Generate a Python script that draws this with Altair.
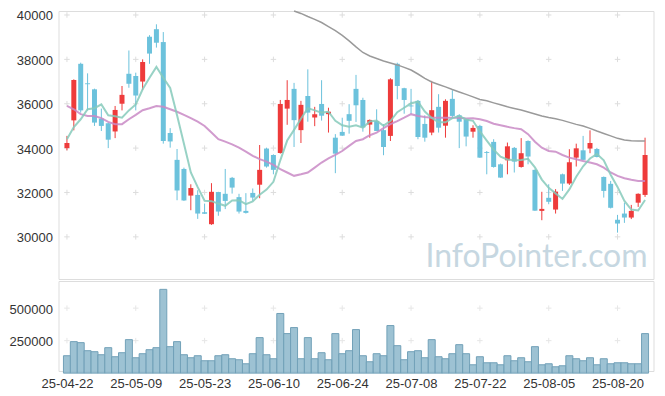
import altair as alt
import pandas as pd

# ---- data ----
opens = [34000, 35250, 37800, 36920, 36650, 35330, 35120, 34750, 36000, 37350,
         37250, 37000, 39020, 39360, 38780, 34680, 33470, 33060, 31860, 31890,
         31110, 30570, 32020, 31940, 32660, 31790, 31170, 31980, 32350, 33980,
         33690, 33780, 35780, 36670, 34810, 36350, 35380, 35990, 35530, 34470,
         34730, 35530, 36670, 36170, 35060, 35220, 34810, 34550, 37800, 36700,
         35920, 36130, 35090, 34700, 35860, 35010, 36220, 35480, 35300, 34740,
         35000, 33820, 34280, 33270, 33450, 34010, 33150, 34320, 33020, 31170,
         31760, 31230, 32820, 32400, 33570, 33900, 33980, 33960, 32700, 32390,
         30770, 31050, 30870, 31540, 31890]
highs = [34550, 37100, 37850, 37370, 36680, 35780, 35150, 35900, 36800, 38400,
         37400, 38000, 39090, 39580, 39230, 34900, 33960, 33120, 32370, 32100,
         31500, 32420, 32030, 33060, 32700, 31940, 31970, 32180, 34140, 34020,
         33720, 36170, 37060, 36940, 36130, 37550, 35860, 37060, 35820, 34630,
         35370, 35980, 37300, 36270, 35290, 35750, 35080, 37150, 37850, 36720,
         36670, 36170, 35480, 37030, 36430, 36200, 36610, 35530, 35320, 35030,
         35050, 33870, 34400, 33300, 34250, 34050, 34450, 34350, 33040, 32030,
         32370, 32150, 32850, 33950, 34200, 34550, 34800, 34010, 32720, 32520,
         30990, 31540, 31440, 31960, 34470]
lows = [33900, 34800, 35600, 35700, 35000, 34770, 34000, 34450, 35700, 36720,
        35700, 36620, 37800, 38530, 34200, 34020, 31650, 31620, 31200, 30810,
        31030, 30540, 30950, 31250, 31950, 31050, 31050, 31620, 31740, 33120,
        32820, 33750, 35050, 34050, 34230, 35190, 34990, 35240, 34700, 32870,
        34550, 34650, 35180, 34740, 34470, 34770, 33680, 34320, 36200, 35550,
        35530, 34400, 34290, 34580, 34700, 34470, 35370, 34000, 34080, 34470,
        33560, 32820, 33120, 32660, 32820, 32900, 33120, 33270, 31170, 30750,
        31470, 31050, 32070, 32340, 33170, 33450, 33770, 33580, 31770, 31280,
        30190, 30630, 30800, 31350, 31800]
closes = [34230, 37070, 35700, 36880, 35150, 35000, 34380, 35720, 36400, 36900,
          36370, 37880, 38260, 38750, 34320, 34300, 32090, 31640, 32200, 31050,
          31040, 32030, 31140, 31620, 32220, 31140, 31080, 31770, 33020, 33170,
          33020, 35990, 36170, 35260, 35950, 35600, 35530, 35460, 35640, 33750,
          34560, 35230, 35930, 34930, 35270, 34770, 34050, 37100, 36800, 36170,
          35880, 34500, 34470, 35710, 34920, 36130, 35450, 35190, 34520, 34910,
          33570, 33780, 33150, 32670, 34080, 33390, 33770, 33620, 31180, 31260,
          31580, 32040, 32400, 33360, 33990, 33470, 34230, 33600, 32070, 31310,
          30600, 30870, 31170, 31940, 33690]
volumes = [133900, 242300, 234500, 172600, 164900, 141600, 195800, 126200, 157100, 257700,
           118400, 149400, 180300, 195800, 644700, 203600, 242300, 141600, 118400, 133900,
           95200, 95200, 133900, 141600, 110700, 102900, 72000, 149400, 273200, 141600,
           110700, 459000, 304200, 350600, 110700, 273200, 110700, 157100, 102900, 304200,
           149400, 172600, 335100, 133900, 87500, 149400, 133900, 366100, 211300, 102900,
           164900, 172600, 118400, 257700, 126200, 110700, 149400, 219000, 149400, 64200,
           126200, 79700, 79700, 64200, 133900, 95200, 118400, 87500, 203600, 64200,
           72000, 48800, 56500, 133900, 110700, 95200, 118400, 64200, 110700, 72000,
           79700, 79700, 72000, 72000, 304200]
ma5 = [34400, 34950, 35300, 35750, 35800, 35970, 35480, 35440, 35370, 35700,
       35970, 36650, 37170, 37660, 37170, 36710, 35480, 34200, 32900, 32240,
       31630, 31610, 31500, 31400, 31640, 31650, 31470, 31600, 31900, 32130,
       32480, 33450, 34340, 34820, 35320, 35800, 35700, 35600, 35640, 35230,
       35030, 34960, 35030, 34920, 35200, 35240, 35010, 35220, 35620, 35820,
       36020, 36090, 35650, 35360, 35160, 35160, 35350, 35440, 35290, 35230,
       34750, 34340, 33930, 33610, 33490, 33450, 33460, 33520, 33130, 32580,
       32210, 31960, 31710, 32140, 32710, 33180, 33530, 33730, 33450, 32800,
       32250, 31620, 31230, 31190, 31660]
ma20 = [35900, 35750, 35530, 35450, 35450, 35350, 35180, 35080, 35080, 35300,
        35500, 35710, 35800, 35900, 35860, 35750, 35640, 35500, 35350, 35190,
        35000, 34700, 34400, 34290, 34170, 34020, 33840, 33650, 33500, 33390,
        33240, 33050, 32900, 32750, 32820, 32900, 33120, 33350, 33540, 33690,
        33870, 34100, 34320, 34400, 34580, 34700, 34900, 35080, 35220, 35370,
        35530, 35450, 35400, 35370, 35370, 35370, 35370, 35370, 35330, 35350,
        35300, 35220, 35100, 35030, 34960, 34900, 34850, 34630, 34290, 34020,
        33870, 33840, 33690, 33570, 33500, 33420, 33350, 33270, 33120, 32900,
        32750, 32640, 32570, 32520, 32520]
ma60_start = 33
ma60 = [40180, 40070, 39930, 39800, 39660, 39480, 39300, 39080, 38830,
        38560, 38310, 38150, 38040, 37930, 37840, 37750, 37640, 37520, 37340,
        37140, 36980, 36870, 36760, 36640, 36530, 36420, 36310, 36190, 36130,
        36040, 35950, 35860, 35790, 35720, 35630, 35540, 35450, 35380, 35320,
        35250, 35160, 35070, 35000, 34890, 34770, 34660, 34550, 34440, 34370,
        34330, 34320, 34320]
tick_index = [0, 10, 20, 30, 40, 50, 60, 70, 80]
tick_labels = ["25-04-22", "25-05-09", "25-05-23", "25-06-10", "25-06-24",
               "25-07-08", "25-07-22", "25-08-05", "25-08-20"]
price_ticks = [30000, 32000, 34000, 36000, 38000, 40000]
vol_ticks = [250000, 500000]
watermark = "InfoPointer.com"

# ---- styling ----
RED = "#ee3b3b"
BLUE = "#6cc2dc"
FONT = "Liberation Sans"
FS = 13
LABEL_COLOR = "#333333"
W = 595
H_MAIN = 268
H_VOL = 90

n = len(opens)
df = pd.DataFrame({
    "i": list(range(n)), "open": opens, "high": highs, "low": lows,
    "close": closes, "vol": volumes, "ma5": ma5, "ma20": ma20,
})
df["dir"] = ["up" if c >= o else "down" for o, c in zip(opens, closes)]
ma60_df = pd.DataFrame({"i": list(range(ma60_start, ma60_start + len(ma60))), "ma60": ma60})

grid_main = pd.DataFrame([(x, y) for x in tick_index for y in price_ticks], columns=["i", "p"])
grid_vol = pd.DataFrame([(x, y) for x in tick_index for y in vol_ticks], columns=["i", "v"])

xscale = alt.Scale(domain=[-0.5, n - 0.5], nice=False, zero=False)
yscale = alt.Scale(domain=[28100, 40180], nice=False, zero=False)
vscale = alt.Scale(domain=[16300, 709000], nice=False, zero=False)
cscale = alt.Scale(domain=["up", "down"], range=[RED, BLUE])

ext = 51
yaxis_main = alt.Axis(values=price_ticks, grid=False, ticks=False, domain=False, format="d",
                      labelFont=FONT, labelFontSize=FS, labelColor=LABEL_COLOR,
                      labelPadding=6, labelOffset=1, title=None, minExtent=ext, maxExtent=ext)
yaxis_vol = alt.Axis(values=vol_ticks, grid=False, ticks=False, domain=False, format="d",
                     labelFont=FONT, labelFontSize=FS, labelColor=LABEL_COLOR,
                     labelPadding=6, labelOffset=1, title=None, minExtent=ext, maxExtent=ext)
label_arr = "[" + ",".join("'%s'" % t for t in tick_labels) + "]"
xaxis_vol = alt.Axis(values=tick_index, grid=False, ticks=False, domain=False,
                     labelExpr=label_arr + "[datum.value / 10]",
                     labelFont=FONT, labelFontSize=FS, labelColor=LABEL_COLOR,
                     labelPadding=6, title=None, labelFlush=False)

cross = "M-1,0L1,0M0,-1L0,1"

gm = alt.Chart(grid_main).mark_point(shape=cross, size=30, filled=False,
                                      stroke="#dddddd", strokeWidth=1, opacity=1).encode(
    x=alt.X("i:Q", scale=xscale, axis=None),
    y=alt.Y("p:Q", scale=yscale, axis=yaxis_main),
)

base = alt.Chart(df).encode(x=alt.X("i:Q", scale=xscale, axis=None))
wick = base.mark_rule(strokeWidth=1).encode(
    y=alt.Y("low:Q", scale=yscale, axis=yaxis_main), y2="high:Q",
    color=alt.Color("dir:N", scale=cscale, legend=None),
)
body = base.mark_bar(size=5).encode(
    y=alt.Y("open:Q", scale=yscale), y2="close:Q",
    color=alt.Color("dir:N", scale=cscale, legend=None),
)
l5 = base.mark_line(color="#86cabb", strokeWidth=2, opacity=0.85).encode(
    y=alt.Y("ma5:Q", scale=yscale))
l20 = base.mark_line(color="#c98ac6", strokeWidth=2, opacity=0.85).encode(
    y=alt.Y("ma20:Q", scale=yscale))
l60 = alt.Chart(ma60_df).mark_line(color="#9a9a9a", strokeWidth=1.5).encode(
    x=alt.X("i:Q", scale=xscale, axis=None), y=alt.Y("ma60:Q", scale=yscale))
wm = alt.Chart(pd.DataFrame({"t": [watermark]})).mark_text(
    font="Lato", fontSize=32, color="#c6d7e1", align="center", baseline="alphabetic"
).encode(text="t:N", x=alt.value(478), y=alt.value(256))

main = alt.layer(gm, wm, wick, body, l60, l20, l5).properties(width=W, height=H_MAIN)

gv = alt.Chart(grid_vol).mark_point(shape=cross, size=30, filled=False,
                                     stroke="#dddddd", strokeWidth=1).encode(
    x=alt.X("i:Q", scale=xscale, axis=xaxis_vol),
    y=alt.Y("v:Q", scale=vscale, axis=yaxis_vol),
)
vbars = alt.Chart(df).mark_bar(size=7, fill="#92bbce", fillOpacity=0.9,
                               stroke="#72a1b8", strokeWidth=1).encode(
    x=alt.X("i:Q", scale=xscale, axis=xaxis_vol),
    y=alt.Y("vol:Q", scale=vscale, axis=yaxis_vol),
)
vol = alt.layer(gv, vbars).properties(width=W, height=H_VOL)

chart = alt.vconcat(main, vol, spacing=0).properties(
    padding={"left": -1.5, "top": -1, "right": 2, "bottom": 2}
).configure_view(stroke="#e6e6e6").configure(background="white")

chart.save("out.html", embed_options={"renderer": "svg", "actions": False})
